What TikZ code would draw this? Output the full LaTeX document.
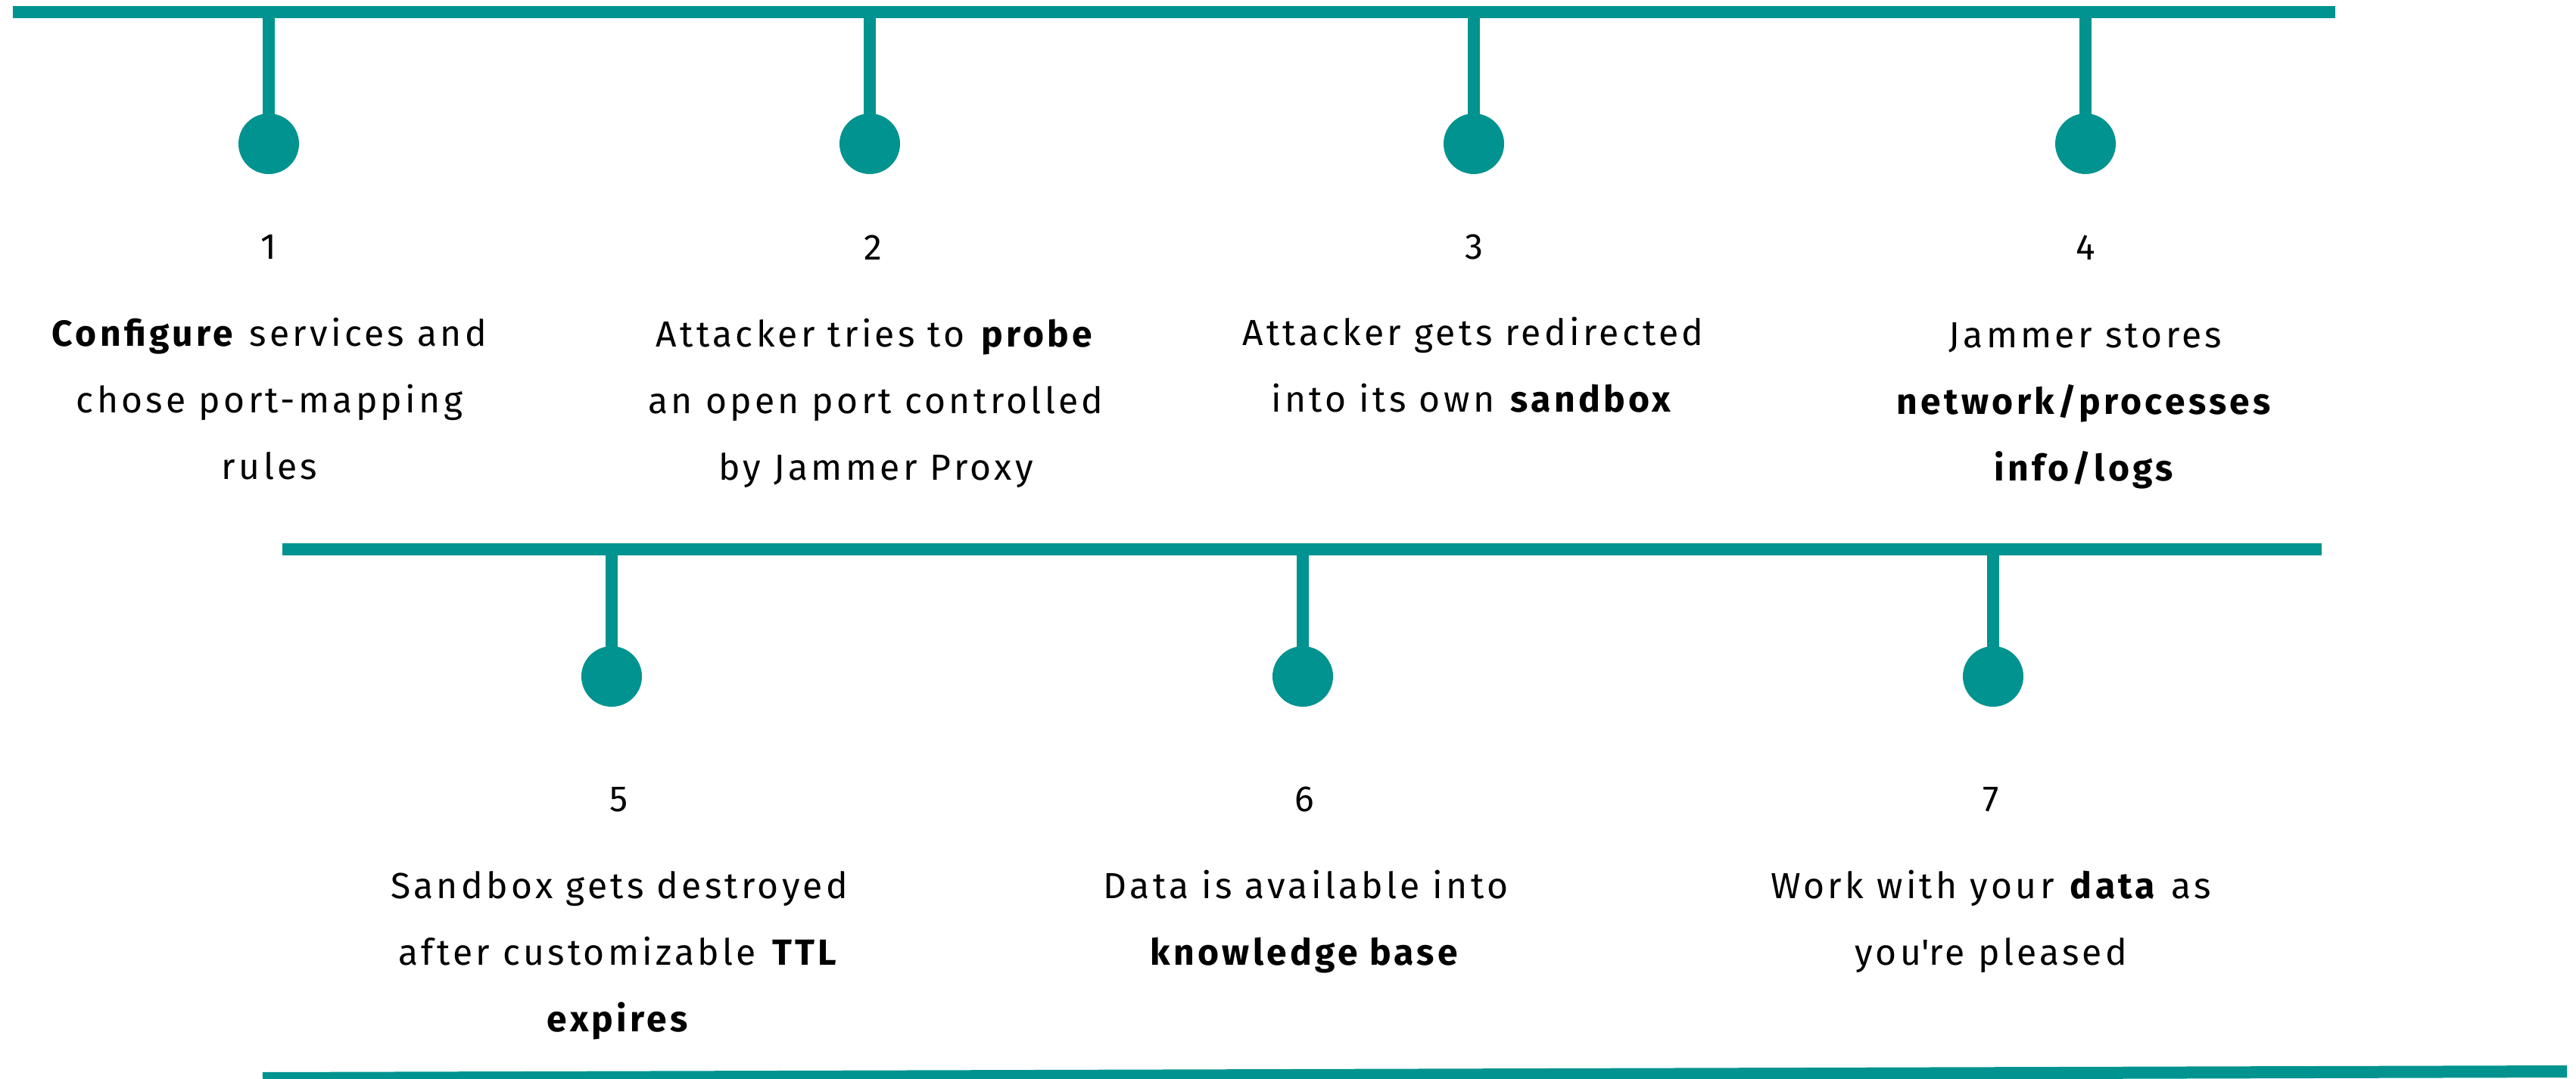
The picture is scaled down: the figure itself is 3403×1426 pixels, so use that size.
\documentclass[tikz,border=0pt]{standalone}
\usepackage{fontspec}
\setmainfont{Fira Sans}[LetterSpace=9]
\definecolor{teal1}{RGB}{0,147,143}
\begin{document}
\begin{tikzpicture}[x=1pt,y=-1pt,
  bar/.style={draw=teal1,line width=16pt},
  stem/.style={draw=teal1,line width=16pt},
  dot/.style={circle,fill=teal1,minimum size=80pt,inner sep=0pt},
  num/.style={anchor=base,font=\fontsize{48}{88}\selectfont,inner sep=0pt},
  desc/.style={anchor=base,align=center,font=\fontsize{48}{88}\selectfont,inner sep=0pt}]
\useasboundingbox (0,0) rectangle (3403,1426);
% lines
\coordinate (A1) at (17,16);
\coordinate (A2) at (3085,16);
\coordinate (B1) at (373,726);
\coordinate (B2) at (3067,726);
\coordinate (C1) at (347,1425);
\coordinate (C2) at (3391,1416);
\draw[bar] (A1) -- (A2);
\draw[bar] (B1) -- (B2);
\draw[bar] (C1) -- (C2);
% row 1
\coordinate (s1) at (355,16);
\coordinate (s2) at (1149,16);
\coordinate (s3) at (1947,16);
\coordinate (s4) at (2755,16);
\node[dot] (c1) at (355,190) {};
\node[dot] (c2) at (1149,190) {};
\node[dot] (c3) at (1947,190) {};
\node[dot] (c4) at (2755,190) {};
\draw[stem] (s1) -- (c1.center);
\draw[stem] (s2) -- (c2.center);
\draw[stem] (s3) -- (c3.center);
\draw[stem] (s4) -- (c4.center);
\node[num] (n1) at (355,342) {1};
\node[num] (n2) at (1153,343) {2};
\node[num] (n3) at (1947,342) {3};
\node[num] (n4) at (2755,343) {4};
% base anchor = baseline of last line
\node[desc] (t1) at (356,633) {\textbf{Configure} services and\\chose port-mapping\\rules};
\node[desc] (t2) at (1157,634) {Attacker tries to \textbf{probe}\\an open port controlled\\by Jammer Proxy};
\node[desc] (t3) at (1946,544) {Attacker gets redirected\\into its own \textbf{sandbox}};
\node[desc] (t4) at (2755,635) {Jammer stores\\\textbf{network/processes}\\\textbf{info/logs}};
% row 2
\coordinate (s5) at (808,726);
\coordinate (s6) at (1721,726);
\coordinate (s7) at (2633,726);
\node[dot] (c5) at (808,894) {};
\node[dot] (c6) at (1721,894) {};
\node[dot] (c7) at (2633,894) {};
\draw[stem] (s5) -- (c5.center);
\draw[stem] (s6) -- (c6.center);
\draw[stem] (s7) -- (c7.center);
\node[num] (n5) at (818,1072) {5};
\node[num] (n6) at (1723,1072) {6};
\node[num] (n7) at (2630,1072) {7};
\node[desc] (t5) at (818,1363) {Sandbox gets destroyed\\after customizable \textbf{TTL}\\\textbf{expires}};
\node[desc] (t6) at (1725,1275) {Data is available into\\\textbf{knowledge base}};
\node[desc] (t7) at (2630,1275) {Work with your \textbf{data} as\\you\textquotesingle re pleased};
\end{tikzpicture}
\end{document}
